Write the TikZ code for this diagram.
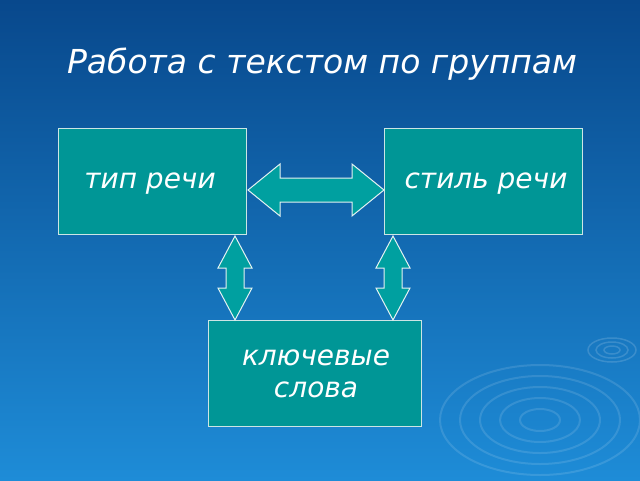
\documentclass[tikz,border=0pt]{standalone}
\usepackage{fontspec}
\setmainfont{DejaVu Sans}
\begin{document}
\begin{tikzpicture}[x=1pt,y=-1pt,
  box/.style={draw=white!80!teal,line width=1pt,fill={rgb,255:red,0;green,150;blue,150}},
  arr/.style={draw=white!90!teal,line width=1pt,fill={rgb,255:red,0;green,160;blue,160}},
  lbl/.style={text=white,font=\itshape\fontsize{28}{32}\selectfont,align=center}]
\shade[top color={rgb,255:red,8;green,72;blue,140},bottom color={rgb,255:red,30;green,140;blue,215}] (0,0) rectangle (640,480);
\useasboundingbox (0,0) rectangle (640,480);
\foreach \r in {20,40,60,80,100}{\draw[white,opacity=0.12,line width=2pt] (540,420) ellipse ({\r} and {\r*0.55});}
\foreach \r in {8,16,24}{\draw[white,opacity=0.15,line width=1.5pt] (612,350) ellipse ({\r} and {\r*0.5});}
\node[text=white,font=\itshape\fontsize{33}{37}\selectfont] (title) at (322,64) {Работа с текстом по группам};
\draw[box] (58,128) rectangle (246,234);
\node[lbl] (a) at (150,184) {тип речи};
\draw[box] (384,128) rectangle (582,234);
\node[lbl] (b) at (486,184) {стиль речи};
\draw[box] (208,320) rectangle (421,426);
\node[lbl] (c) at (316,374) {ключевые\\слова};
\draw[arr] (248,190) -- (280,164) -- (280,178) -- (352,178) -- (352,164) -- (384,190) -- (352,216) -- (352,202) -- (280,202) -- (280,216) -- cycle;
\foreach \cx in {235,393}{
\draw[arr] (\cx,236) -- (\cx+17,268) -- (\cx+9,268) -- (\cx+9,288) -- (\cx+17,288) -- (\cx,320) -- (\cx-17,288) -- (\cx-9,288) -- (\cx-9,268) -- (\cx-17,268) -- cycle;}
\end{tikzpicture}
\end{document}
